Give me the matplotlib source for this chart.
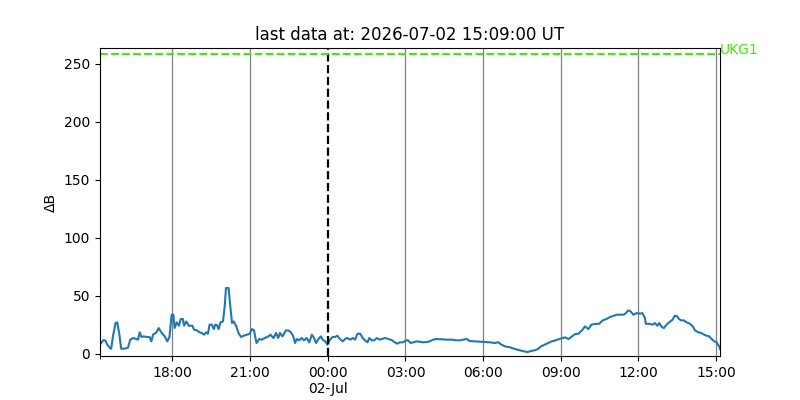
import matplotlib
matplotlib.use("Agg")
import matplotlib.pyplot as plt
import matplotlib.dates as mdates
import pandas as pd

start_time = "2026-07-01 15:12:00"
end_time = "2026-07-02 15:09:00"
station = "UKG1"
threshold = 258.3

# minutes since start_time
minutes = [0, 3, 7, 12, 17, 23, 26, 30, 36, 40, 45, 49, 57, 65, 70, 77, 84, 88, 92, 96, 101,
           108, 115, 119, 123, 131, 136, 142, 150, 156, 161, 166, 170, 173, 178, 183, 187,
           192, 195, 200, 206, 214, 218, 224, 231, 236, 241, 246, 250, 254, 259, 264, 267,
           271, 275, 279, 285, 289, 292, 298, 302, 306, 310, 316, 321, 327, 333, 341, 347,
           352, 357, 361, 363, 369, 375, 382, 390, 395, 402, 408, 413, 417, 423, 431, 436,
           442, 448, 452, 456, 462, 467, 473, 479, 485, 491, 496, 501, 506, 512, 516, 522,
           527, 533, 539, 545, 550, 556, 563, 568, 573, 580, 586, 591, 597, 603, 609, 614,
           620, 624, 630, 635, 642, 648, 653, 661, 669, 677, 683, 689, 695, 702, 710, 714,
           720, 726, 734, 741, 749, 757, 764, 772, 780, 792, 803, 815, 826, 834, 842, 850,
           857, 869, 881, 892, 904, 914, 923, 931, 939, 950, 962, 973, 983, 991, 999, 1007,
           1015, 1022, 1030, 1038, 1047, 1056, 1064, 1072, 1078, 1086, 1094, 1101, 1109, 1117,
           1124, 1132, 1139, 1147, 1157, 1165, 1174, 1182, 1191, 1198, 1206, 1214, 1219, 1224,
           1230, 1236, 1244, 1251, 1257, 1263, 1265, 1273, 1281, 1286, 1292, 1296, 1302, 1307,
           1313, 1319, 1327, 1332, 1338, 1342, 1347, 1353, 1360, 1367, 1374, 1379, 1387, 1394,
           1400, 1406, 1412, 1419, 1424, 1429, 1435, 1437]

delta_b = [8.0, 9.2, 11.5, 11.5, 7.7, 4.9, 4.3, 14.9, 26.4, 27.0, 16.4, 4.3, 4.3, 5.2, 12.1, 13.5,
           12.6, 12.1, 18.4, 14.4, 14.9, 14.4, 14.4, 10.6, 16.4, 18.4, 22.1, 18.4, 14.9, 10.6,
           14.4, 33.6, 33.6, 22.1, 27.0, 24.1, 29.9, 29.9, 24.1, 27.8, 24.1, 24.1, 20.7, 20.2,
           18.4, 17.8, 16.4, 18.4, 17.2, 25.0, 25.0, 21.2, 25.0, 24.6, 21.2, 27.0, 27.8, 40.7,
           56.6, 56.6, 40.7, 26.4, 27.8, 23.5, 17.8, 14.4, 15.5, 16.4, 17.2, 21.2, 20.2, 12.1,
           9.2, 12.6, 12.1, 13.5, 14.9, 16.4, 13.5, 17.8, 13.5, 17.8, 14.9, 20.1, 20.1, 18.7,
           14.9, 9.2, 12.6, 11.5, 13.5, 11.5, 13.5, 9.8, 16.4, 13.5, 9.2, 12.6, 14.9, 12.1,
           10.6, 7.7, 12.1, 14.4, 14.4, 15.5, 12.6, 10.6, 12.6, 13.5, 12.1, 13.5, 12.1, 17.2,
           17.2, 13.5, 11.5, 9.8, 13.5, 11.5, 11.5, 13.5, 12.1, 12.6, 13.5, 12.6, 11.5, 9.8,
           8.6, 9.8, 9.8, 11.5, 11.5, 9.2, 9.8, 10.6, 10.3, 9.8, 10.0, 10.6, 12.1, 12.6, 12.4,
           12.1, 12.1, 11.5, 11.5, 12.1, 12.6, 10.9, 10.6, 10.3, 10.0, 9.8, 9.2, 9.8, 7.7, 6.3,
           5.5, 4.0, 2.9, 2.0, 1.4, 2.3, 2.9, 4.0, 6.3, 7.7, 9.2, 10.6, 11.5, 12.6, 13.5, 14.1,
           12.6, 14.9, 16.9, 17.2, 20.1, 23.5, 21.2, 25.0, 25.6, 25.8, 28.7, 29.9, 31.6, 32.7,
           33.6, 33.6, 33.6, 35.0, 37.3, 36.4, 33.6, 35.0, 34.5, 35.0, 30.7, 25.8, 25.8, 25.0,
           26.4, 24.1, 26.4, 23.0, 22.1, 25.0, 27.0, 29.3, 32.7, 32.1, 29.9, 28.7, 28.7, 27.0,
           25.8, 23.5, 20.1, 18.4, 17.8, 16.4, 15.5, 14.9, 12.1, 10.6, 9.8, 6.3, 4.0]

t0 = pd.Timestamp(start_time)
t1 = pd.Timestamp(end_time)
times = t0 + pd.to_timedelta(minutes, unit="m")

fig, ax = plt.subplots(figsize=(8, 4), dpi=100)
ax.plot(times, delta_b, color="#1f77b4", lw=1.5)

ax.set_xlim(t0, t1)
ax.set_ylim(-2, threshold * 1.02)

ax.xaxis.set_major_locator(mdates.HourLocator(byhour=range(0, 24, 3)))

def fmt(x, pos=None):
    d = mdates.num2date(x)
    if d.hour == 0 and d.minute == 0:
        return d.strftime("%H:%M\n%d-%b")
    return d.strftime("%H:%M")

ax.xaxis.set_major_formatter(plt.FuncFormatter(fmt))
ax.set_xticks([mdates.date2num(t0)], minor=True)

for tk in ax.get_xticks():
    dt = mdates.num2date(tk)
    if dt.hour == 0:
        continue
    ax.axvline(tk, color="gray", lw=0.9, zorder=0)

midnight = pd.Timestamp("2026-07-02 00:00:00")
ax.axvline(midnight, color="black", ls="--", lw=1.6)

ax.axhline(threshold, color="#44e80c", ls="--", lw=1.5)
ax.text(t1, threshold, station, color="#44e80c", ha="left", va="baseline", fontsize=10)

ax.set_ylabel("ΔB")
ax.set_title("last data at: 2026-07-02 15:09:00 UT")

fig.savefig("out.png", dpi=100)
